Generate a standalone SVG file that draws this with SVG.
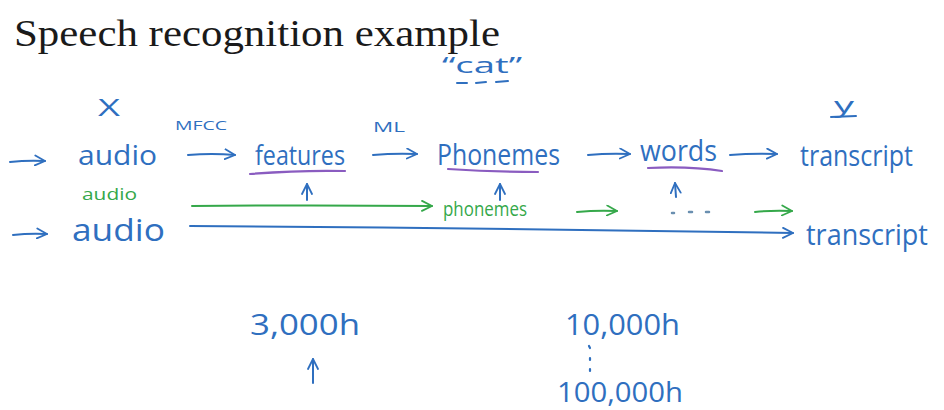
<svg xmlns="http://www.w3.org/2000/svg" width="944" height="410" viewBox="0 0 944 410">
<defs>
<style>
.t{font-family:"Liberation Serif","Times New Roman",serif;fill:#1a1a1a}
.h{font-family:"Open Sans","Liberation Sans",sans-serif;fill:#2f6fbf}
.g{font-family:"Open Sans","Liberation Sans",sans-serif;fill:#35a84a}
.b{stroke:#2f6fbf;stroke-width:2;fill:none;stroke-linecap:round;stroke-linejoin:round}
.gl{stroke:#35a84a;stroke-width:2;fill:none;stroke-linecap:round;stroke-linejoin:round}
.u{stroke:#8a5cc0;stroke-width:2.2;fill:none;stroke-linecap:round}
</style>
<marker id="ab" viewBox="0 0 12 12" refX="11" refY="6" markerWidth="12" markerHeight="12" markerUnits="userSpaceOnUse" orient="auto">
<path d="M1,1 L11,6 L1,11" fill="none" stroke="#2f6fbf" stroke-width="1.8" stroke-linecap="round" stroke-linejoin="round"/>
</marker>
<marker id="ag" viewBox="0 0 12 12" refX="11" refY="6" markerWidth="12" markerHeight="12" markerUnits="userSpaceOnUse" orient="auto">
<path d="M1,1 L11,6 L1,11" fill="none" stroke="#35a84a" stroke-width="1.8" stroke-linecap="round" stroke-linejoin="round"/>
</marker>
</defs>
<rect width="944" height="410" fill="#ffffff"/>
<text class="t" x="14" y="46" font-size="37" textLength="486" lengthAdjust="spacingAndGlyphs">Speech recognition example</text>

<g id="label-x"><text class="h" x="98" y="116" font-size="24" textLength="22" lengthAdjust="spacingAndGlyphs">X</text></g>
<g id="label-y"><text class="h" x="834" y="113" font-size="22" textLength="20" lengthAdjust="spacingAndGlyphs">y</text><path class="b" d="M831,117 L856,116"/></g>
<g id="label-cat"><text class="h" x="442" y="73" font-size="22" textLength="80" lengthAdjust="spacingAndGlyphs">“cat”</text><path class="b" d="M457,83 L467,83 M476,83 L486,82 M496,82 L508,81"/></g>
<g id="label-mfcc"><text class="h" x="175" y="130" font-size="13" textLength="52" lengthAdjust="spacingAndGlyphs">MFCC</text></g>
<g id="label-ml"><text class="h" x="373" y="132" font-size="14" textLength="32" lengthAdjust="spacingAndGlyphs">ML</text></g>

<g id="audio1"><text class="h" x="78" y="165" font-size="28" textLength="79" lengthAdjust="spacingAndGlyphs">audio</text></g>
<g id="features"><text class="h" x="255" y="165" font-size="28" textLength="90" lengthAdjust="spacingAndGlyphs">features</text><path class="u" d="M250,174 Q300,170 345,171"/></g>
<g id="phonemes"><text class="h" x="437" y="165" font-size="30" textLength="123" lengthAdjust="spacingAndGlyphs">Phonemes</text><path class="u" d="M448,169 Q495,172 538,172"/></g>
<g id="words"><text class="h" x="640" y="161" font-size="30" textLength="77" lengthAdjust="spacingAndGlyphs">words</text><path class="u" d="M648,168 Q690,166 722,171"/></g>
<g id="transcript1"><text class="h" x="800" y="166" font-size="30" textLength="113" lengthAdjust="spacingAndGlyphs">transcript</text></g>

<g id="audio-green"><text class="g" x="82" y="200" font-size="17" textLength="55" lengthAdjust="spacingAndGlyphs">audio</text></g>
<g id="phonemes-green"><text class="g" x="443" y="216" font-size="20" textLength="84" lengthAdjust="spacingAndGlyphs">phonemes</text></g>
<g id="dots"><path d="M672,213 L674,213 M689,212 L692,212 M706,212 L709,212" stroke="#6a8fb0" stroke-width="2.5" stroke-linecap="round"/></g>

<g id="audio2"><text class="h" x="72" y="241" font-size="31" textLength="93" lengthAdjust="spacingAndGlyphs">audio</text></g>
<g id="transcript2"><text class="h" x="806" y="245" font-size="30" textLength="122" lengthAdjust="spacingAndGlyphs">transcript</text></g>

<g id="hours3000"><text class="h" x="250" y="335" font-size="30" textLength="110" lengthAdjust="spacingAndGlyphs">3,000h</text></g>
<g id="hours10000"><text class="h" x="565" y="335" font-size="30" textLength="115" lengthAdjust="spacingAndGlyphs">10,000h</text></g>
<g id="vdots"><path d="M589,346 L590,348 M590,358 L590,360 M590,369 L590,371" stroke="#2f6fbf" stroke-width="2.2" stroke-linecap="round"/></g>
<g id="hours100000"><text class="h" x="557" y="402" font-size="28" textLength="126" lengthAdjust="spacingAndGlyphs">100,000h</text></g>

<g id="connectors">
<path class="b" d="M10,162 Q28,160 45,161" marker-end="url(#ab)"/>
<path class="b" d="M188,155 Q212,153 235,155" marker-end="url(#ab)"/>
<path class="b" d="M373,155 Q395,153 417,154" marker-end="url(#ab)"/>
<path class="b" d="M588,155 Q609,153 630,154" marker-end="url(#ab)"/>
<path class="b" d="M730,155 Q753,153 777,154" marker-end="url(#ab)"/>
<path class="b" d="M307,200 L307,184" marker-end="url(#ab)"/>
<path class="b" d="M500,200 L500,184" marker-end="url(#ab)"/>
<path class="b" d="M676,197 L675,183" marker-end="url(#ab)"/>
<path class="gl" d="M192,206 Q310,205 432,206" marker-end="url(#ag)"/>
<path class="gl" d="M577,212 Q597,210 617,211" marker-end="url(#ag)"/>
<path class="gl" d="M755,212 Q773,210 792,211" marker-end="url(#ag)"/>
<path class="b" d="M13,235 Q30,233 47,234" marker-end="url(#ab)"/>
<path class="b" d="M190,226 Q490,228 793,233" marker-end="url(#ab)"/>
<path class="b" d="M313,383 L313,359" marker-end="url(#ab)"/>
</g>
</svg>
